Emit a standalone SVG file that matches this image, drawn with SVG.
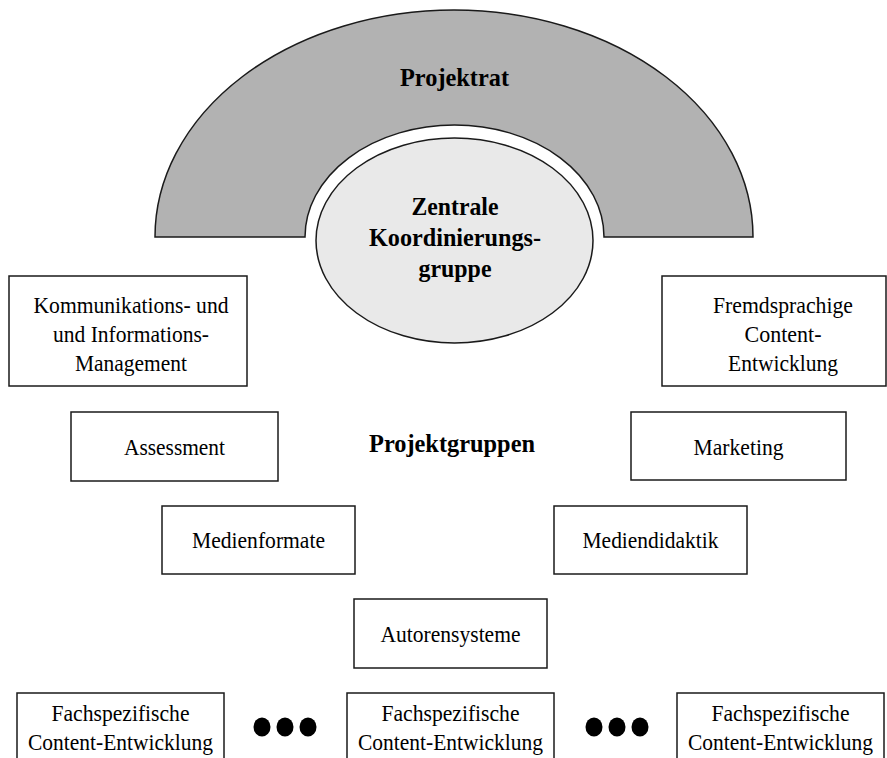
<svg xmlns="http://www.w3.org/2000/svg" width="887" height="758" viewBox="0 0 887 758">
<style>
  .box { fill: #ffffff; stroke: #1a1a1a; stroke-width: 1.5; }
  .t { font-family: "Liberation Serif", "Times New Roman", serif; font-size: 23px; fill: #000; text-anchor: middle; }
  .b { font-family: "Liberation Serif", "Times New Roman", serif; font-size: 25px; font-weight: bold; fill: #000; text-anchor: middle; }
  .dot { fill: #000; }
</style>
<rect x="0" y="0" width="887" height="758" fill="#ffffff"/>

<g id="projektrat">
  <path d="M 155 237 A 299 227 0 0 1 753 237 L 604 237 A 149.5 112 0 0 0 305 237 Z" fill="#b2b2b2" stroke="#1a1a1a" stroke-width="1.5"/>
  <text class="b" x="454.5" y="86" textLength="109" lengthAdjust="spacingAndGlyphs">Projektrat</text>
</g>

<g id="zentrale">
  <ellipse cx="454.5" cy="240.5" rx="138.5" ry="102.5" fill="#e9e9e9" stroke="#1a1a1a" stroke-width="1.5"/>
  <text class="b" x="455" y="215" textLength="87" lengthAdjust="spacingAndGlyphs">Zentrale</text>
  <text class="b" x="455" y="246" textLength="172" lengthAdjust="spacingAndGlyphs">Koordinierungs-</text>
  <text class="b" x="455" y="277" textLength="73" lengthAdjust="spacingAndGlyphs">gruppe</text>
</g>

<g id="kommunikation">
  <rect class="box" x="9" y="276" width="238" height="110"/>
  <text class="t" x="131" y="313" textLength="195" lengthAdjust="spacingAndGlyphs">Kommunikations- und</text>
  <text class="t" x="131" y="342" textLength="156" lengthAdjust="spacingAndGlyphs">und Informations-</text>
  <text class="t" x="131" y="371" textLength="112" lengthAdjust="spacingAndGlyphs">Management</text>
</g>

<g id="fremdsprachig">
  <rect class="box" x="662" y="276" width="224" height="110"/>
  <text class="t" x="783" y="313" textLength="140" lengthAdjust="spacingAndGlyphs">Fremdsprachige</text>
  <text class="t" x="783" y="342" textLength="77" lengthAdjust="spacingAndGlyphs">Content-</text>
  <text class="t" x="783" y="371" textLength="110" lengthAdjust="spacingAndGlyphs">Entwicklung</text>
</g>

<g id="assessment">
  <rect class="box" x="71" y="412" width="207" height="69"/>
  <text class="t" x="174.5" y="455" textLength="101" lengthAdjust="spacingAndGlyphs">Assessment</text>
</g>

<g id="projektgruppen">
  <text class="b" x="452" y="452" textLength="166" lengthAdjust="spacingAndGlyphs">Projektgruppen</text>
</g>

<g id="marketing">
  <rect class="box" x="631" y="412" width="215" height="68"/>
  <text class="t" x="738.5" y="455" textLength="90" lengthAdjust="spacingAndGlyphs">Marketing</text>
</g>

<g id="medienformate">
  <rect class="box" x="162" y="506" width="193" height="68"/>
  <text class="t" x="258.5" y="548" textLength="133" lengthAdjust="spacingAndGlyphs">Medienformate</text>
</g>

<g id="mediendidaktik">
  <rect class="box" x="554" y="506" width="193" height="68"/>
  <text class="t" x="650.5" y="548" textLength="136" lengthAdjust="spacingAndGlyphs">Mediendidaktik</text>
</g>

<g id="autorensysteme">
  <rect class="box" x="354" y="599" width="193" height="69"/>
  <text class="t" x="450.5" y="642" textLength="140" lengthAdjust="spacingAndGlyphs">Autorensysteme</text>
</g>

<g id="fach1">
  <rect class="box" x="17" y="693" width="207" height="75"/>
  <text class="t" x="120.5" y="721" textLength="138" lengthAdjust="spacingAndGlyphs">Fachspezifische</text>
  <text class="t" x="120.5" y="750" textLength="185" lengthAdjust="spacingAndGlyphs">Content-Entwicklung</text>
</g>

<g id="dots1">
  <ellipse class="dot" cx="262" cy="727" rx="8.5" ry="9.5"/>
  <ellipse class="dot" cx="285" cy="727" rx="8.5" ry="9.5"/>
  <ellipse class="dot" cx="308" cy="727" rx="8.5" ry="9.5"/>
</g>

<g id="fach2">
  <rect class="box" x="347" y="693" width="207" height="75"/>
  <text class="t" x="450.5" y="721" textLength="138" lengthAdjust="spacingAndGlyphs">Fachspezifische</text>
  <text class="t" x="450.5" y="750" textLength="185" lengthAdjust="spacingAndGlyphs">Content-Entwicklung</text>
</g>

<g id="dots2">
  <ellipse class="dot" cx="594" cy="727" rx="8.5" ry="9.5"/>
  <ellipse class="dot" cx="617" cy="727" rx="8.5" ry="9.5"/>
  <ellipse class="dot" cx="640" cy="727" rx="8.5" ry="9.5"/>
</g>

<g id="fach3">
  <rect class="box" x="677" y="693" width="207" height="75"/>
  <text class="t" x="780.5" y="721" textLength="138" lengthAdjust="spacingAndGlyphs">Fachspezifische</text>
  <text class="t" x="780.5" y="750" textLength="185" lengthAdjust="spacingAndGlyphs">Content-Entwicklung</text>
</g>

<g id="connectors"></g>
</svg>
